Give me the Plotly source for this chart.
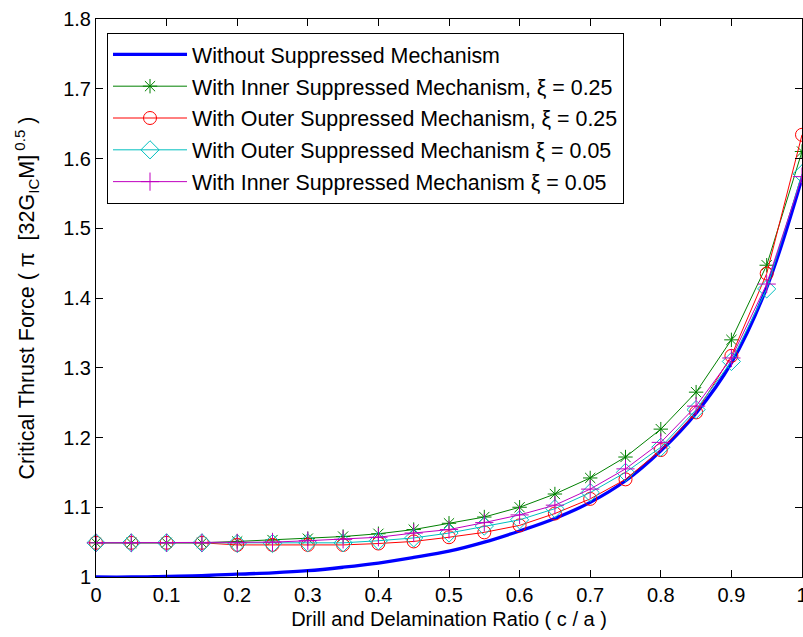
import plotly.graph_objects as go

ratio = [0.00, 0.05, 0.10, 0.15, 0.20, 0.25, 0.30, 0.35, 0.40, 0.45, 0.50,
         0.55, 0.60, 0.65, 0.70, 0.75, 0.80, 0.85, 0.90, 0.95, 1.00]

without_suppressed = [1.000, 1.000, 1.001, 1.002, 1.004, 1.006, 1.009, 1.014, 1.020, 1.028, 1.037,
                      1.050, 1.066, 1.084, 1.107, 1.138, 1.181, 1.235, 1.307, 1.415, 1.572]
inner_025 = [1.049, 1.049, 1.049, 1.049, 1.051, 1.053, 1.055, 1.058, 1.062, 1.068, 1.077,
             1.086, 1.100, 1.119, 1.142, 1.172, 1.212, 1.265, 1.340, 1.447, 1.610]
outer_025 = [1.049, 1.049, 1.049, 1.049, 1.046, 1.046, 1.046, 1.046, 1.048, 1.051, 1.057,
             1.064, 1.074, 1.091, 1.112, 1.140, 1.182, 1.236, 1.317, 1.435, 1.634]
outer_005 = [1.049, 1.049, 1.049, 1.049, 1.048, 1.048, 1.049, 1.049, 1.052, 1.056, 1.063,
             1.073, 1.082, 1.098, 1.121, 1.150, 1.186, 1.240, 1.309, 1.413, 1.578]
inner_005 = [1.049, 1.049, 1.049, 1.049, 1.049, 1.050, 1.052, 1.054, 1.057, 1.063, 1.068,
             1.078, 1.089, 1.103, 1.126, 1.155, 1.193, 1.245, 1.314, 1.420, 1.574]

x_ticks = [0, 0.1, 0.2, 0.3, 0.4, 0.5, 0.6, 0.7, 0.8, 0.9, 1.0]
x_tick_labels = ["0", "0.1", "0.2", "0.3", "0.4", "0.5", "0.6", "0.7", "0.8", "0.9", "1"]
y_ticks = [1.0, 1.1, 1.2, 1.3, 1.4, 1.5, 1.6, 1.7, 1.8]
y_tick_labels = ["1", "1.1", "1.2", "1.3", "1.4", "1.5", "1.6", "1.7", "1.8"]

FONT = "Liberation Sans, Arial, Helvetica, sans-serif"

fig = go.Figure()
fig.add_trace(go.Scatter(x=ratio, y=without_suppressed, mode="lines",
                         name="Without Suppressed Mechanism", legendgroup="a",
                         line=dict(color="#0000FF", width=3.3, shape="spline")))
fig.add_trace(go.Scatter(x=ratio, y=inner_025, mode="lines+markers", cliponaxis=False,
                         name="With Inner Suppressed Mechanism, ξ = 0.25", legendgroup="b",
                         line=dict(color="#008000", width=1),
                         marker=dict(symbol="asterisk-open", size=12, color="#008000",
                                     line=dict(color="#008000", width=1))))
fig.add_trace(go.Scatter(x=ratio, y=outer_025, mode="lines+markers", cliponaxis=False,
                         name="With Outer Suppressed Mechanism, ξ = 0.25", legendgroup="c",
                         line=dict(color="#FF0000", width=1),
                         marker=dict(symbol="circle-open", size=13, color="#FF0000",
                                     line=dict(color="#FF0000", width=1))))
fig.add_trace(go.Scatter(x=ratio, y=outer_005, mode="lines+markers", cliponaxis=False,
                         name="With Outer Suppressed Mechanism ξ = 0.05", legendgroup="d",
                         line=dict(color="#00BFBF", width=1),
                         marker=dict(symbol="diamond-open", size=14, color="#00BFBF",
                                     line=dict(color="#00BFBF", width=1))))
fig.add_trace(go.Scatter(x=ratio, y=inner_005, mode="lines+markers", cliponaxis=False,
                         name="With Inner Suppressed Mechanism ξ = 0.05", legendgroup="e",
                         line=dict(color="#BF00BF", width=1),
                         marker=dict(symbol="cross-thin-open", size=13, color="#BF00BF",
                                     line=dict(color="#BF00BF", width=1))))

axis_common = dict(showgrid=False, zeroline=False, showline=True, linecolor="black",
                   linewidth=1, mirror="ticks", ticks="inside", ticklen=7,
                   tickcolor="black", tickwidth=1, automargin=False,
                   ticklabeloverflow="allow",
                   tickfont=dict(family=FONT, size=20, color="black"))

fig.update_layout(
    width=803, height=637,
    margin=dict(l=96, r=1, t=19, b=60, autoexpand=False),
    paper_bgcolor="white", plot_bgcolor="white",
    font=dict(family=FONT, color="black"),
    xaxis=dict(range=[0, 1], tickvals=x_ticks, ticktext=x_tick_labels,
               title=dict(text="Drill and Delamination Ratio ( c / a )",
                          font=dict(family=FONT, size=20), standoff=6),
               **axis_common),
    yaxis=dict(range=[1, 1.8], tickvals=y_ticks, ticktext=y_tick_labels,
               title=dict(text="Critical Thrust Force ( π  [32G<sub>IC</sub>M]<sup> 0.5</sup> )",
                          font=dict(family=FONT, size=21.5), standoff=22),
               **axis_common),
    legend=dict(x=0.0156, y=0.975, xanchor="left", yanchor="top",
                bgcolor="white", bordercolor="black", borderwidth=1,
                font=dict(family=FONT, size=21.4, color="black"),
                itemwidth=74, tracegroupgap=1, traceorder="grouped"),
    showlegend=True,
)

fig.write_html("out.html",
               config={"displayModeBar": False},
               post_script="document.body.style.margin='0';document.body.style.overflow='hidden';")
